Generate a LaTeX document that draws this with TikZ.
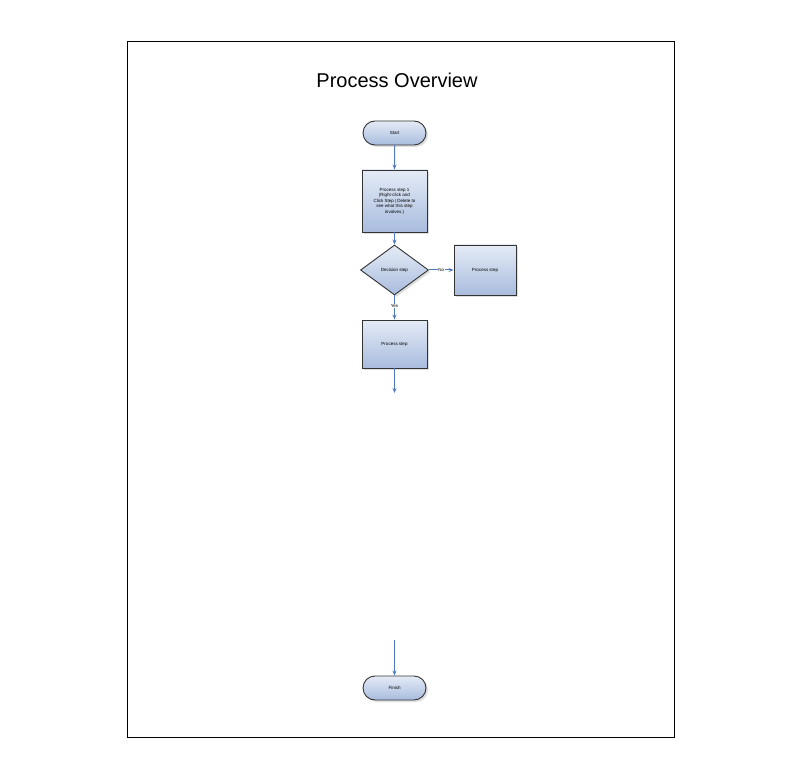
\documentclass[tikz,border=0pt]{standalone}
\usepackage{fontspec}
\setmainfont{Liberation Sans}
\usetikzlibrary{shapes.geometric,shapes.misc,arrows.meta,shadows}
\definecolor{boxtop}{HTML}{E4EBF6}
\definecolor{boxbot}{HTML}{A9BCDE}
\definecolor{arr}{HTML}{4F7BBE}
\tikzset{
  shp/.style={draw=black!80, line width=0.9pt, top color=boxtop, bottom color=boxbot,
     drop shadow={shadow xshift=2pt, shadow yshift=-2pt, fill=black!25}, font=\fontsize{4.5}{5.5}\selectfont, align=center, inner sep=1pt},
  term/.style={shp, rounded rectangle, minimum width=65pt, minimum height=24pt},
  procbox/.style={shp, rectangle, minimum width=65pt},
  dec/.style={shp, diamond, minimum width=68pt, minimum height=50pt, aspect=1.36},
  conn/.style={draw=arr, line width=1pt, -{Stealth[length=5pt,width=4pt]}},
  lbl/.style={font=\fontsize{4.5}{5}\selectfont, fill=white, inner sep=0.5pt}
}
\begin{document}
\begin{tikzpicture}[x=1pt,y=-1pt]
\useasboundingbox (0,0) rectangle (801,778);
\draw[line width=0.8pt] (127,41) rectangle (674,737);
\node[font=\fontsize{20}{24}\selectfont] (title) at (397,80) {Process Overview};
\node[term] (start) at (394.5,133) {Start};
\node[procbox, minimum height=62pt] (p1) at (394.5,201) {Process step 1\\(Right-click and\\Click Step | Delete to\\see what this step\\involves.)};
\node[dec] (d) at (394.5,270) {Decision step};
\node[procbox, minimum width=62pt, minimum height=50pt] (pr) at (485,270) {Process step};
\node[procbox, minimum height=48pt] (p2) at (394.5,344) {Process step};
\coordinate (e1) at (394.5,393);
\coordinate (e2) at (394.5,640);
\node[term] (finish) at (394.5,688) {Finish};
\draw[conn] (start) -- (p1);
\draw[conn] (p1) -- (d);
\draw[conn] (d) -- node[lbl] {No} (pr);
\draw[conn] (d) -- node[lbl, pos=0.45] {Yes} (p2);
\draw[conn] (p2) -- (e1);
\draw[conn] (e2) -- (finish);
\end{tikzpicture}
\end{document}
